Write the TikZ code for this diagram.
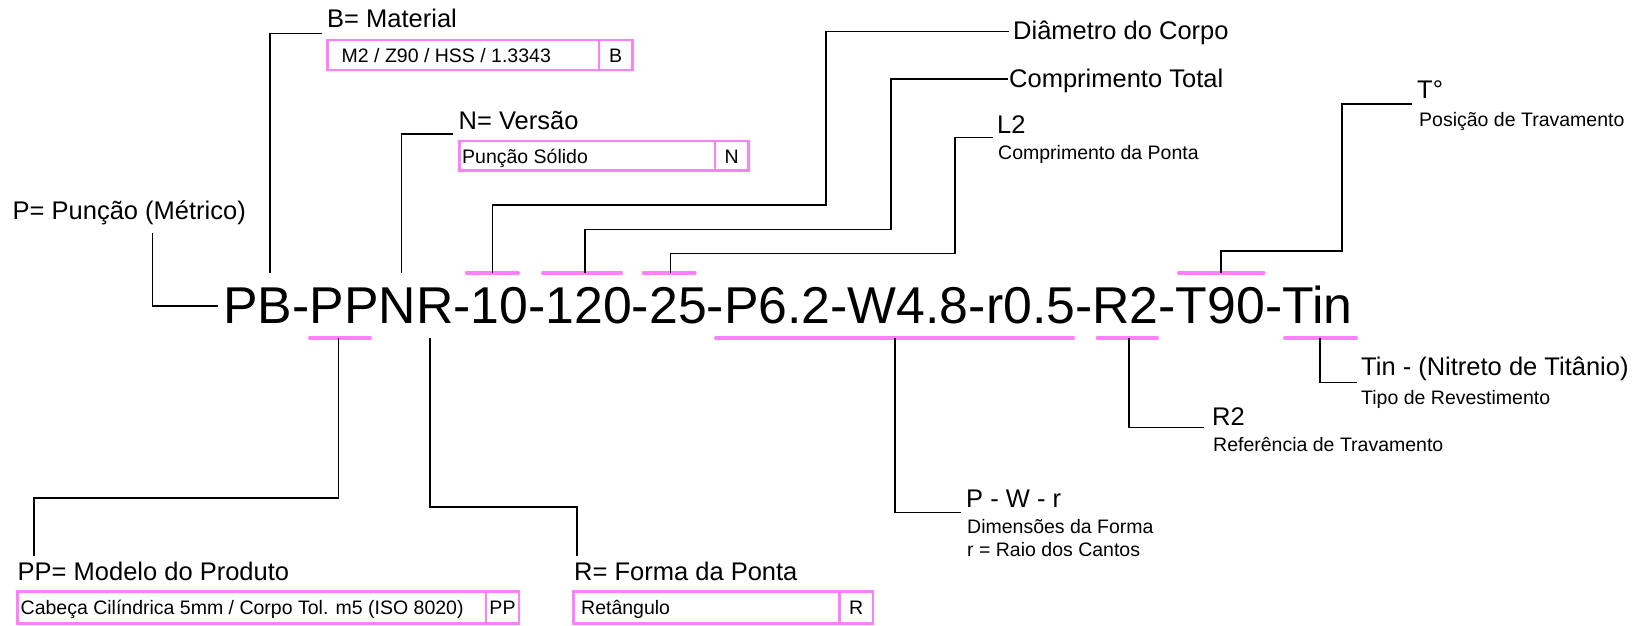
\documentclass[tikz,border=0pt]{standalone}
\usepackage{fontspec}
\setmainfont{Liberation Sans}
\definecolor{markpink}{RGB}{255,128,255}
\tikzset{
  big/.style={font=\fontsize{25.5}{30}\selectfont, inner sep=0pt, anchor=base west},
  small/.style={font=\fontsize{19.5}{23}\selectfont, inner sep=0pt, anchor=base west},
  smallc/.style={font=\fontsize{19.5}{23}\selectfont, inner sep=0pt, anchor=base},
  code/.style={font=\fontsize{51.8}{60}\selectfont, inner sep=0pt, anchor=base west},
  conn/.style={draw=black, line width=1.3pt},
  markline/.style={draw=markpink, line width=3.4pt, line cap=round},
  cellbox/.style={draw=markpink, line width=2.7pt},
}
\begin{document}
\begin{tikzpicture}[x=1pt,y=-1pt]
\useasboundingbox (0,0) rectangle (1633,626);

% main code
\node[code] (codeT) at (223,323) {PB-PPNR-10-120-25-P6.2-W4.8-r0.5-R2-T90-Tin};

% marks above
\draw[markline] (466.7,273) -- (518.3,273);
\draw[markline] (542.7,273) -- (621.3,273);
\draw[markline] (643.4,273) -- (695,273);
\draw[markline] (1178.7,273) -- (1264,273);
% marks below
\draw[markline] (309.7,338) -- (370.3,338);
\draw[markline] (715.7,338) -- (1073.3,338);
\draw[markline] (1097.4,338) -- (1157.3,338);
\draw[markline] (1284.7,338) -- (1356.3,338);

% connector anchor coordinates
\coordinate (pA) at (152.7,233.3);
\coordinate (pB) at (218,306);
\coordinate (bA) at (270,273);
\coordinate (bB) at (321.7,33.3);
\coordinate (nA) at (401.7,273);
\coordinate (nB) at (453.3,134);
\coordinate (dA) at (492.7,273);
\coordinate (dC) at (826,205);
\coordinate (dB) at (1009,31.7);
\coordinate (cA) at (585,273);
\coordinate (cC) at (891,229.3);
\coordinate (cB) at (1007.5,79);
\coordinate (lA) at (670.7,273);
\coordinate (lC) at (955,253.3);
\coordinate (lB) at (993,137.3);
\coordinate (tA) at (1221,273);
\coordinate (tC) at (1342,251);
\coordinate (tB) at (1412,104);
\coordinate (fA) at (895,338);
\coordinate (fB) at (960.7,512.7);
\coordinate (rA) at (1129,338);
\coordinate (rB) at (1204,427.7);
\coordinate (iA) at (1320,338);
\coordinate (iB) at (1357,382.7);
\coordinate (ppA) at (338.5,338);
\coordinate (ppC) at (34,498);
\coordinate (ppB) at (34,556);
\coordinate (rfA) at (430,338);
\coordinate (rfC) at (577,507);
\coordinate (rfB) at (577,556);

% connectors
\draw[conn] (pA) |- (pB);
\draw[conn] (bA) |- (bB);
\draw[conn] (nA) |- (nB);
\draw[conn] (dA) |- (dC) |- (dB);
\draw[conn] (cA) |- (cC) |- (cB);
\draw[conn] (lA) |- (lC) |- (lB);
\draw[conn] (tA) |- (tC) |- (tB);
\draw[conn] (fA) |- (fB);
\draw[conn] (rA) |- (rB);
\draw[conn] (iA) |- (iB);
\draw[conn] (ppA) |- (ppC) -- (ppB);
\draw[conn] (rfA) |- (rfC) -- (rfB);

% labels
\node[big] (lblP) at (12.5,219) {P= Punção (Métrico)};
\node[big] (lblB) at (327,27.3) {B= Material};
\node[big] (lblN) at (458.5,129.3) {N= Versão};
\node[big] (lblD) at (1013,39.3) {Diâmetro do Corpo};
\node[big] (lblC) at (1009,87.3) {Comprimento Total};
\node[big] (lblL) at (997,133.5) {L2};
\node[small] (lblLs) at (998,159) {Comprimento da Ponta};
\node[big] (lblT) at (1417,98) {T°};
\node[small] (lblTs) at (1419,126.5) {Posição de Travamento};
\node[big] (lblI) at (1361,375.5) {Tin - (Nitreto de Titânio)};
\node[small] (lblIs) at (1361,404.5) {Tipo de Revestimento};
\node[big] (lblR) at (1212,425.5) {R2};
\node[small] (lblRs) at (1213,451.5) {Referência de Travamento};
\node[big] (lblF) at (966,507.5) {P - W - r};
\node[small] (lblFs) at (967,533.5) {Dimensões da Forma};
\node[small] (lblFt) at (967,556.5) {r = Raio dos Cantos};
\node[big] (lblPP) at (17.5,580) {PP= Modelo do Produto};
\node[big] (lblRF) at (574,580) {R= Forma da Ponta};

% boxes
\draw[cellbox] (327.7,40) rectangle (632.3,70);
\draw[cellbox] (599,40) -- (599,70);
\node[small] (boxBt) at (341.5,62.3) {M2 / Z90 / HSS / 1.3343};
\node[smallc] (boxBc) at (615.7,62.3) {B};

\draw[cellbox] (459.3,141) rectangle (748.3,170.7);
\draw[cellbox] (715,141) -- (715,170.7);
\node[small] (boxNt) at (462,163.3) {Punção Sólido};
\node[smallc] (boxNc) at (731.7,163.3) {N};

\draw[cellbox] (17.3,591.7) rectangle (519,623.3);
\draw[cellbox] (486,591.7) -- (486,623.3);
\node[small] (boxPPt) at (20.5,614) {Cabeça Cilíndrica 5mm / Corpo Tol. m5 (ISO 8020)};
\node[smallc] (boxPPc) at (502.5,614) {PP};

\draw[cellbox] (573.4,591.7) rectangle (873,623.3);
\draw[cellbox] (839.5,591.7) -- (839.5,623.3);
\node[small] (boxRt) at (581,614) {Retângulo};
\node[smallc] (boxRc) at (856.2,614) {R};
\end{tikzpicture}
\end{document}
